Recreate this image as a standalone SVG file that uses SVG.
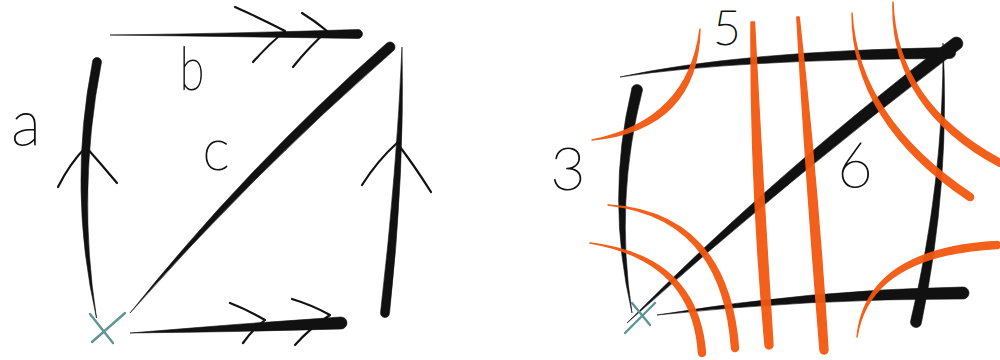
<svg xmlns="http://www.w3.org/2000/svg" width="1000" height="360" viewBox="0 0 1000 360">
<style>
.ink{fill:#111;stroke:#111;stroke-width:0.6;stroke-linejoin:round}
.pen{fill:none;stroke:#111;stroke-width:2.2;stroke-linecap:round;stroke-linejoin:round}
.cross{fill:none;stroke:#5e9596;stroke-width:2.4;stroke-linecap:round}
.hl{fill:#f25810;stroke:#f25810;stroke-width:1.4;stroke-linejoin:round;opacity:0.95}
.lbl{font-family:Lato,"Open Sans","DejaVu Sans",sans-serif;font-weight:200;fill:#111;stroke:#111;stroke-width:1;stroke-linejoin:round;text-anchor:middle}
</style>
<rect width="1000" height="360" fill="#fff"/>

<g id="left-figure">
  <g id="edge-a">
    <path class="ink" d="M96.5,318 Q76.5,190 101.5,62 A4.5,4.5 0 0 0 92.5,62 Q67.5,190 96.5,318 Z"/>
    <path class="pen" d="M58,187 Q70,163 86,147 Q101,164 117,183"/>
  </g>
  <g id="edge-b">
    <path class="ink" d="M110,35 Q240,36.6 358,38.5 A4.5,4.5 0 0 0 358,29.5 Q240,33.4 110,35 Z"/>
    <path class="pen" d="M235,7 Q262,19 285,31 Q268,45 253,62"/>
    <path class="pen" d="M302,13 Q315,21 327,31 Q308,48 293,67"/>
  </g>
  <g id="edge-c">
    <path class="ink" d="M130,313 Q253.2,173.2 393.6,50.5 A5,5 0 0 0 386.4,43.5 Q246.8,166.8 130,313 Z"/>
  </g>
  <g id="edge-right">
    <path class="ink" d="M402,47 Q397,169.7 380.5,312.7 A4.5,4.5 0 0 0 389.5,313.3 Q405,170.3 402,47 Z"/>
    <path class="pen" d="M362,185 Q378,160 397,143 Q414,165 431,192"/>
  </g>
  <g id="edge-bottom">
    <path class="ink" d="M130,333 Q235.2,332 341.3,329 A6,6 0 0 0 340.7,317 Q234.8,324 130,333 Z"/>
    <path class="pen" d="M230,303 Q248,310 265,320 Q252,330 243,343"/>
    <path class="pen" d="M292,299 Q312,305 330,315 Q310,328 295,345"/>
  </g>
  <g id="base-point-left">
    <path class="cross" d="M90,314 L113,343 M125,313 L92,342"/>
  </g>
  <text class="lbl" x="26" y="145" font-size="62">a</text>
  <text class="lbl" x="192" y="90" font-size="60" transform="translate(192 0) scale(0.75 1) translate(-192 0)">b</text>
  <text class="lbl" x="216" y="170" font-size="58">c</text>
</g>

<g id="right-figure">
  <g id="edges-right">
    <path class="ink" d="M620,77 Q740.3,59 950.4,58.5 A5.5,5.5 0 0 0 949.6,47.5 Q739.7,51 620,77 Z"/>
    <path class="ink" d="M632,313 Q614.5,199 642.5,90 A5.5,5.5 0 0 0 631.5,90 Q605.5,199 632,313 Z"/>
    <path class="ink" d="M627,323 Q788.2,179 961.3,47.8 A6.5,6.5 0 0 0 952.7,38.2 Q779.8,169 627,323 Z"/>
    <path class="ink" d="M943,43 Q944,182.5 910.5,321.5 A5.5,5.5 0 0 0 921.5,322.5 Q950.5,183.5 943,43 Z"/>
    <path class="ink" d="M657,315 Q811.3,298.5 963.4,299 A6,6 0 0 0 962.6,287 Q810.7,289.5 657,315 Z"/>
  </g>
  <g id="base-point-right">
    <path class="cross" d="M632,303 L650,325 M655,303 L625,333"/>
  </g>
  <g id="cuts">
    <path class="hl" d="M700,29 Q697.7,129.6 592,140 Q688.3,120.4 700,29 Z"/>
    <path class="hl" d="M751,22 Q750,180 765,345 A4,4 0 0 0 773,345 Q762.5,180 754.5,22 Z"/>
    <path class="hl" d="M796.8,17 Q806,180 820,350.3 A4,4 0 0 0 828,349.7 Q817.5,180 799.2,17 Z"/>
    <path class="hl" d="M852,13 Q852,122 968,200 A3.5,3.5 0 0 0 972,194 Q858,118 852,13 Z"/>
    <path class="hl" d="M893,2 Q890,107 998.3,166 A3.5,3.5 0 0 0 1001.7,160 Q896,103 893,2 Z"/>
    <path class="hl" d="M608,205 Q722.3,217.4 731.5,348.3 A3.5,3.5 0 0 0 738.5,347.7 Q727.7,212.6 608,205 Z"/>
    <path class="hl" d="M590,243 Q692.5,260.5 698.5,353.3 A3.5,3.5 0 0 0 705.5,352.7 Q697.5,255.5 590,243 Z"/>
    <path class="hl" d="M857,337 Q870,255 997.2,248.5 A3.5,3.5 0 0 0 996.8,241.5 Q866,249 857,337 Z"/>
  </g>
  <text class="lbl" x="568" y="190" font-size="60">3</text>
  <text class="lbl" x="727" y="45" font-size="48">5</text>
  <text class="lbl" x="855" y="187" font-size="61">6</text>
</g>
</svg>
